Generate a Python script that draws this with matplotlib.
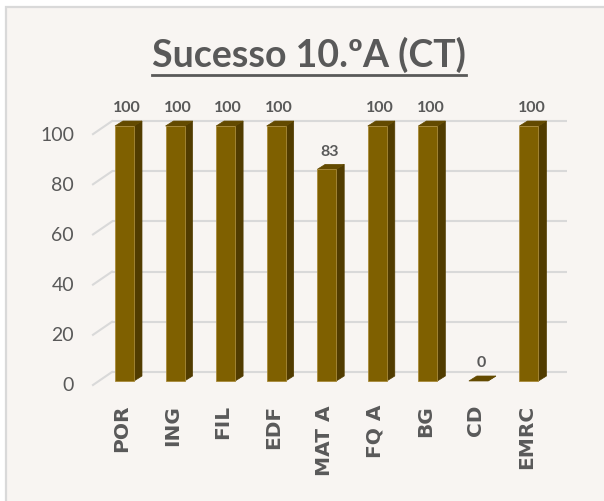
import matplotlib
matplotlib.use("Agg")
import matplotlib.pyplot as plt
from matplotlib.patches import Rectangle, Polygon
from matplotlib.lines import Line2D

categories = ["POR", "ING", "FIL", "EDF", "MAT A", "FQ A", "BG", "CD", "EMRC"]
values = [100, 100, 100, 100, 83, 100, 100, 0, 100]
ticks = [0, 20, 40, 60, 80, 100]
title = "Sucesso 10.ºA (CT)"

TEXT = "#595959"
GRID = "#D9D9D9"
BG = "#F8F5F2"
FRONT = "#7F6000"
SIDE = "#513C00"
TOP = "#634A00"

# fake 3d: offset of the bar depth and of the back wall, in data units
BAR_W = 0.376
SX, SY = 0.158, 1.96
WALL_X0, WALL_X1 = -0.247, 8.752
FRONT_X = -0.623

fig = plt.figure(figsize=(6.04, 5.02), dpi=100)
fig.patch.set_facecolor("white")
fig.patches.append(Rectangle((0.0099, -0.05), 1.1, 0.984 + 0.05, transform=fig.transFigure,
                             facecolor=BG, edgecolor=GRID, linewidth=1.6, zorder=-10))

ax = fig.add_axes([0.0993, 0.2032, 0.8775, 0.5976])
ax.set_xlim(-1.276, 9.207)
ax.set_ylim(-7.06, 110.6)
ax.axis("off")
ax.patch.set_alpha(0)

# back wall gridlines + slanted floor ticks
for t in ticks:
    yb = 3.53 + 0.984 * t
    yf = -1.57 + 0.984 * t
    ax.plot([WALL_X0, WALL_X1], [yb, yb], color=GRID, lw=1.5, zorder=1, solid_capstyle="butt")
    ax.plot([FRONT_X, WALL_X0], [yf, yb], color=GRID, lw=1.5, zorder=1)
    ax.text(-0.999, yf, str(t), ha="right", va="center", fontsize=14,
            family="Lato", color=TEXT)

for i, v in enumerate(values):
    l, r = i - BAR_W / 2, i + BAR_W / 2
    ax.add_patch(Polygon([(r, 0), (r + SX, SY), (r + SX, v + SY), (r, v)],
                         facecolor=SIDE, edgecolor=SIDE, lw=0.5, zorder=3))
    ax.add_patch(Polygon([(l, v), (r, v), (r + SX, v + SY), (l + SX, v + SY)],
                         facecolor=TOP, edgecolor=TOP, lw=0.5, zorder=3))
    if v > 0:
        ax.add_patch(Rectangle((l, 0), BAR_W, v, facecolor=FRONT,
                               edgecolor="#A88A3A", lw=0.6, zorder=4))
    ax.annotate(str(v), (i + SX / 3, v), xytext=(0, 13.5), textcoords="offset points",
                ha="center", va="center", fontsize=11.5, fontweight="bold",
                family="Lato", color=TEXT)
    ax.text(i - 0.05, -9.0, categories[i], rotation=90, ha="center", va="top",
            fontsize=14.5, fontweight="bold", family="DejaVu Sans", color=TEXT)

t = fig.text(309 / 604, 1 - 67 / 502, title, ha="center", va="baseline",
             fontsize=27, fontweight="bold", family="Lato", color=TEXT)
fig.canvas.draw()
bb = t.get_window_extent().transformed(fig.transFigure.inverted())
uy = 1 - 76 / 502
fig.add_artist(Line2D([bb.x0, bb.x1], [uy, uy], color=TEXT, lw=2, transform=fig.transFigure))

fig.savefig("out.png", dpi=100, facecolor=fig.get_facecolor())
